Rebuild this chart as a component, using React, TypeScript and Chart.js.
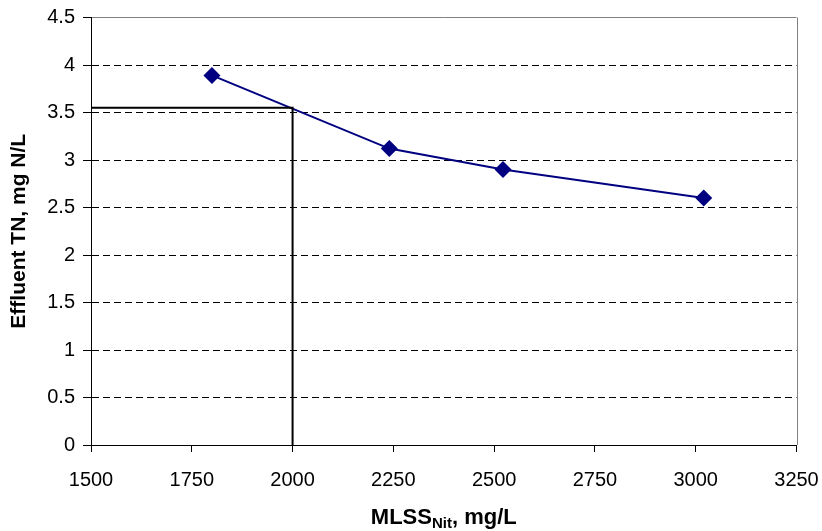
import React, { useEffect, useRef } from 'react';
import { Chart, registerables } from 'chart.js';

Chart.register(...registerables);

// ---- Data ----
const mlssNit = [1800, 2240, 2522, 3020];
const effluentTN = [3.89, 3.12, 2.9, 2.6];
const guideX = [1500, 2000, 2000];
const guideY = [3.55, 3.55, 0];
const xTickValues = [1500, 1750, 2000, 2250, 2500, 2750, 3000, 3250];
const yTickValues = [0, 0.5, 1, 1.5, 2, 2.5, 3, 3.5, 4, 4.5];
const yTitleText = 'Effluent TN, mg N/L';
const xTitleMain = 'MLSS';
const xTitleSub = 'Nit';
const xTitleRest = ', mg/L';

const FONT = '"Liberation Sans", Arial, sans-serif';

const frameAndTitlePlugin = {
  id: 'frameAndTitle',
  afterDraw(chart: any) {
    const { ctx, chartArea } = chart;
    ctx.save();
    // right frame line
    ctx.strokeStyle = '#808080';
    ctx.lineWidth = 1;
    ctx.beginPath();
    ctx.moveTo(Math.round(chartArea.right) + 0.5, chartArea.top);
    ctx.lineTo(Math.round(chartArea.right) + 0.5, chartArea.bottom);
    ctx.stroke();
    // x title with subscript
    const big = `bold 22px ${FONT}`;
    const small = `bold 15px ${FONT}`;
    ctx.fillStyle = '#000';
    ctx.textBaseline = 'alphabetic';
    ctx.textAlign = 'left';
    ctx.font = big;
    const w1 = ctx.measureText(xTitleMain).width;
    const w3 = ctx.measureText(xTitleRest).width;
    ctx.font = small;
    const w2 = ctx.measureText(xTitleSub).width;
    const total = w1 + w2 + w3;
    let x = (chartArea.left + chartArea.right) / 2 - total / 2;
    const y = chartArea.bottom + 79;
    ctx.font = big;
    ctx.fillText(xTitleMain, x, y);
    x += w1;
    ctx.font = small;
    ctx.fillText(xTitleSub, x, y + 3.5);
    x += w2;
    ctx.font = big;
    ctx.fillText(xTitleRest, x, y);
    ctx.restore();
  },
};

export default function App() {
  const ref = useRef<HTMLCanvasElement | null>(null);

  useEffect(() => {
    document.body.style.margin = '0';
    const canvas = ref.current;
    if (!canvas) return;
    const chart = new Chart(canvas, {
      type: 'scatter',
      data: {
        datasets: [
          {
            label: 'guide',
            data: guideX.map((x, i) => ({ x, y: guideY[i] })),
            showLine: true,
            borderColor: '#000',
            borderWidth: 2,
            pointRadius: 0,
            pointHoverRadius: 0,
            fill: false,
            tension: 0,
          },
          {
            label: 'Effluent TN',
            data: mlssNit.map((x, i) => ({ x, y: effluentTN[i] })),
            showLine: true,
            borderColor: '#000080',
            backgroundColor: '#000080',
            borderWidth: 2,
            pointStyle: 'rectRot',
            pointRadius: 8.5,
            pointBorderWidth: 0,
            pointBackgroundColor: '#000080',
            fill: false,
            tension: 0,
          },
        ],
      },
      options: {
        responsive: false,
        animation: false,
        events: [],
        layout: { padding: { top: 17.5, right: 25.5, left: 0, bottom: 0 } },
        plugins: {
          legend: { display: false },
          tooltip: { enabled: false },
        },
        scales: {
          x: {
            type: 'linear',
            position: 'bottom',
            min: xTickValues[0],
            max: xTickValues[xTickValues.length - 1],
            afterBuildTicks: (scale: any) => {
              scale.ticks = xTickValues.map((v) => ({ value: v }));
            },
            afterFit: (scale: any) => {
              scale.height = 86;
              scale.paddingLeft = 0;
              scale.paddingRight = 0;
            },
            ticks: {
              callback: (v: any) => String(v),
              font: { family: FONT, size: 20 },
              color: '#000',
              padding: 16,
              maxRotation: 0,
              autoSkip: false,
            },
            grid: {
              drawOnChartArea: false,
              drawTicks: true,
              tickLength: 7,
              tickColor: '#000',
              color: '#000',
            },
            border: { display: true, color: '#000', width: 1 },
          },
          y: {
            type: 'linear',
            min: yTickValues[0],
            max: yTickValues[yTickValues.length - 1],
            afterBuildTicks: (scale: any) => {
              scale.ticks = yTickValues.map((v) => ({ value: v }));
            },
            afterFit: (scale: any) => {
              scale.width = 91;
              scale.paddingTop = 0;
              scale.paddingBottom = 0;
            },
            ticks: {
              callback: (v: any) => String(v),
              font: { family: FONT, size: 20 },
              color: '#000',
              padding: 8,
              autoSkip: false,
            },
            grid: {
              drawTicks: true,
              tickLength: 8,
              tickColor: '#000',
              color: (ctx: any) => (ctx.tick && ctx.tick.value === 4.5 ? '#808080' : '#000'),
              lineWidth: 1,
            },
            border: {
              display: true,
              color: '#000',
              width: 1,
              dash: (ctx: any) => (ctx.tick && ctx.tick.value === 4.5 ? [] : [7, 4]),
            },
            title: {
              display: true,
              text: yTitleText,
              font: { family: FONT, size: 21, weight: 'bold' },
              color: '#000',
              padding: { top: 7, bottom: 0 },
            },
          },
        },
      },
      plugins: [frameAndTitlePlugin],
    } as any);
    return () => chart.destroy();
  }, []);

  return (
    <div style={{ width: 822, height: 531, background: '#fff' }}>
      <canvas ref={ref} width={822} height={531} style={{ display: 'block' }} />
    </div>
  );
}
